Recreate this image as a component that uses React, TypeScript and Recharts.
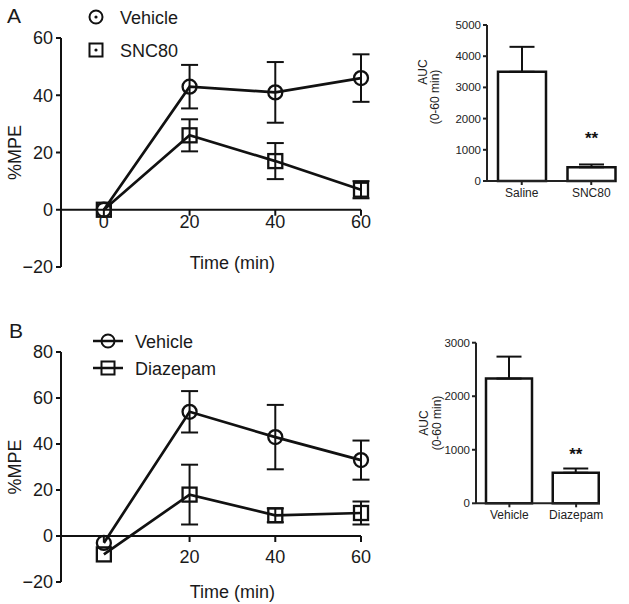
import React from 'react';
import {
  ComposedChart,
  Line,
  XAxis,
  YAxis,
  ErrorBar,
  ReferenceLine,
  BarChart,
  Bar,
  LabelList,
} from 'recharts';

const FONT = '"Liberation Sans", Arial, Helvetica, sans-serif';
const INK = '#111';
const TXT = '#1a1a1a';

// ---------- data ----------
const timePoints = [0, 20, 40, 60];
const xTicks = [0, 20, 40, 60];

const aSeriesNames = ['Vehicle', 'SNC80'];
const aVehicleMean = [0, 43, 41, 46];
const aVehicleSem = [0, 7.6, 10.6, 8.3];
const aSncMean = [0, 26, 17, 7];
const aSncSem = [0, 5.6, 6.3, 3];
const aYTicks = [-20, 0, 20, 40, 60];

const bSeriesNames = ['Vehicle', 'Diazepam'];
const bVehicleMean = [-3, 54, 43, 33];
const bVehicleSem = [0, 9, 14, 8.5];
const bDiazMean = [-8, 18, 9, 10];
const bDiazSem = [0, 13, 3, 5];
const bYTicks = [-20, 0, 20, 40, 60, 80];

const aAucGroups = ['Saline', 'SNC80'];
const aAucMean = [3500, 440];
const aAucSem = [800, 90];
const aAucSig = ['', '**'];
const aAucTicks = [0, 1000, 2000, 3000, 4000, 5000];

const bAucGroups = ['Vehicle', 'Diazepam'];
const bAucMean = [2330, 570];
const bAucSem = [410, 80];
const bAucSig = ['', '**'];
const bAucTicks = [0, 1000, 2000, 3000];

const aucLabelLines = ['AUC', '(0-60 min)'];
const xTitle = 'Time (min)';
const yTitle = '%MPE';

// ---------- tables ----------
const buildLine = (m1: number[], s1: number[], m2: number[], s2: number[]) =>
  timePoints.map((t, i) => ({ t, veh: m1[i], vehErr: s1[i], drug: m2[i], drugErr: s2[i] }));

const aLineData = buildLine(aVehicleMean, aVehicleSem, aSncMean, aSncSem);
const bLineData = buildLine(bVehicleMean, bVehicleSem, bDiazMean, bDiazSem);

const buildAuc = (g: string[], m: number[], s: number[], sig: string[]) =>
  g.map((name, i) => ({ g: name, v: m[i], e: [0, s[i]], sig: sig[i] }));

const aAucData = buildAuc(aAucGroups, aAucMean, aAucSem, aAucSig);
const bAucData = buildAuc(bAucGroups, bAucMean, bAucSem, bAucSig);

const fmtMinus = (v: number) => (v < 0 ? '\u2212' + Math.abs(v) : String(v));

const circleDot = (p: any) =>
  p.cx == null ? null : (
    <circle key={`c${p.index}`} cx={p.cx} cy={p.cy} r={7} fill="none" stroke={INK} strokeWidth={2.3} />
  );
const squareDot = (p: any) =>
  p.cx == null ? null : (
    <rect key={`s${p.index}`} x={p.cx - 7} y={p.cy - 7} width={14} height={14} fill="none" stroke={INK} strokeWidth={2.3} />
  );

type TCProps = {
  data: any[];
  top: number;
  height: number;
  marginTop: number;
  marginBottom: number;
  yDomain: [number, number];
  yTicks: number[];
  labelGap: number;
  hideZeroLabel: boolean;
  titleDy: number;
};

function TimeCourse({ data, top, height, marginTop, marginBottom, yDomain, yTicks, labelGap, hideZeroLabel, titleDy }: TCProps) {
  const width = 380;
  const xAxisH = 20;
  const xDomain: [number, number] = [-10, 60];
  const plotH = height - marginTop - marginBottom - xAxisH;
  const zeroY = marginTop + (yDomain[1] / (yDomain[1] - yDomain[0])) * plotH;

  const renderXTick = (props: any) => {
    const { x, payload } = props;
    const showLabel = !(hideZeroLabel && payload.value === 0);
    return (
      <g>
        <line x1={x} x2={x} y1={zeroY} y2={zeroY + 6} stroke={INK} strokeWidth={2} />
        {showLabel && (
          <text x={x} y={zeroY + labelGap} textAnchor="middle" dominantBaseline="central" fontSize={18} fill={TXT} fontFamily={FONT}>
            {payload.value}
          </text>
        )}
      </g>
    );
  };

  const xLabel = (props: any) => {
    const vb = props.viewBox;
    const frac = (30 - xDomain[0]) / (xDomain[1] - xDomain[0]);
    return (
      <text x={vb.x + frac * vb.width} y={vb.y + titleDy} textAnchor="middle" dominantBaseline="central" fontSize={18} fill={TXT} fontFamily={FONT}>
        {xTitle}
      </text>
    );
  };

  const yLabel = (props: any) => {
    const vb = props.viewBox;
    const cx = vb.x + 15;
    const cy = vb.y + vb.height / 2;
    return (
      <text transform={`translate(${cx},${cy}) rotate(-90)`} textAnchor="middle" dominantBaseline="central" fontSize={18} fill={TXT} fontFamily={FONT}>
        {yTitle}
      </text>
    );
  };

  return (
    <div style={{ position: 'absolute', left: 0, top }}>
      <ComposedChart width={width} height={height} data={data} margin={{ top: marginTop, right: 19, bottom: marginBottom, left: 0 }}>
        <XAxis
          dataKey="t"
          type="number"
          domain={xDomain}
          ticks={xTicks}
          interval={0}
          height={xAxisH}
          axisLine={false}
          tickLine={false}
          tick={renderXTick}
          label={xLabel}
        />
        <YAxis
          type="number"
          domain={yDomain}
          ticks={yTicks}
          interval={0}
          width={61}
          tickSize={5}
          tickMargin={3}
          tickFormatter={fmtMinus}
          axisLine={{ stroke: INK, strokeWidth: 2 }}
          tickLine={{ stroke: INK, strokeWidth: 2 }}
          tick={{ fontSize: 18, fill: TXT, fontFamily: FONT }}
          label={yLabel}
        />
        <ReferenceLine y={0} stroke={INK} strokeWidth={2} />
        <Line dataKey="veh" stroke={INK} strokeWidth={2.7} isAnimationActive={false} dot={circleDot} activeDot={false}>
          <ErrorBar dataKey="vehErr" direction="y" width={8.5} stroke={INK} strokeWidth={2} />
        </Line>
        <Line dataKey="drug" stroke={INK} strokeWidth={2.7} isAnimationActive={false} dot={squareDot} activeDot={false}>
          <ErrorBar dataKey="drugErr" direction="y" width={8.5} stroke={INK} strokeWidth={2} />
        </Line>
      </ComposedChart>
    </div>
  );
}

type AucProps = {
  data: any[];
  left: number;
  top: number;
  width: number;
  height: number;
  margin: { top: number; right: number; bottom: number; left: number };
  yAxisW: number;
  yMax: number;
  ticks: number[];
  barSize: number;
  padRight: number;
  sigOffset: number;
  lab: { x1: number; x2: number; dy1: number; dy2: number };
};

function AucChart({ data, left, top, width, height, margin, yAxisW, yMax, ticks, barSize, padRight, sigOffset, lab }: AucProps) {
  const yLabel = (props: any) => {
    const vb = props.viewBox;
    const cy = vb.y + vb.height / 2;
    return (
      <g>
        <text transform={`translate(${vb.x + lab.x1},${cy + lab.dy1}) rotate(-90)`} textAnchor="middle" dominantBaseline="central" fontSize={12} fill="#222" fontFamily={FONT}>
          {aucLabelLines[0]}
        </text>
        <text transform={`translate(${vb.x + lab.x2},${cy + lab.dy2}) rotate(-90)`} textAnchor="middle" dominantBaseline="central" fontSize={12} fill="#222" fontFamily={FONT}>
          {aucLabelLines[1]}
        </text>
      </g>
    );
  };
  return (
    <div style={{ position: 'absolute', left, top }}>
      <BarChart width={width} height={height} data={data} margin={margin} barSize={barSize}>
        <XAxis
          dataKey="g"
          type="category"
          interval={0}
          height={20}
          padding={{ left: 0, right: padRight }}
          tickSize={4}
          tickMargin={3}
          axisLine={{ stroke: '#222', strokeWidth: 2 }}
          tickLine={{ stroke: '#222', strokeWidth: 2 }}
          tick={{ fontSize: 12, fill: '#222', fontFamily: FONT }}
        />
        <YAxis
          type="number"
          domain={[0, yMax]}
          ticks={ticks}
          interval={0}
          width={yAxisW}
          tickSize={4}
          tickMargin={2}
          axisLine={{ stroke: '#222', strokeWidth: 2 }}
          tickLine={{ stroke: '#222', strokeWidth: 2 }}
          tick={{ fontSize: 11.5, fill: '#222', fontFamily: FONT }}
          label={yLabel}
        />
        <Bar dataKey="v" fill="#fff" stroke={INK} strokeWidth={2.5} isAnimationActive={false}>
          <ErrorBar dataKey="e" direction="y" width={12.5} stroke={INK} strokeWidth={2} />
          <LabelList dataKey="sig" position="top" offset={sigOffset} fill={INK} fontSize={17} fontWeight="bold" fontFamily={FONT} />
        </Bar>
      </BarChart>
    </div>
  );
}

function Overlay() {
  const t = { fontFamily: FONT, fontSize: 18, fill: TXT } as const;
  return (
    <svg width={629} height={604} style={{ position: 'absolute', left: 0, top: 0, pointerEvents: 'none' }}>
      <text x={7} y={23} fontFamily={FONT} fontSize={21} fill={TXT}>A</text>
      <text x={9} y={338} fontFamily={FONT} fontSize={21} fill={TXT}>B</text>
      {/* legend A */}
      <circle cx={96} cy={17} r={6.5} fill="none" stroke={INK} strokeWidth={2} />
      <circle cx={96} cy={17} r={1.6} fill={INK} />
      <text x={120} y={18} dominantBaseline="central" {...t}>{aSeriesNames[0]}</text>
      <rect x={89.5} y={43.5} width={13} height={13} fill="none" stroke={INK} strokeWidth={2} />
      <circle cx={96} cy={50} r={1.6} fill={INK} />
      <text x={120} y={51} dominantBaseline="central" {...t}>{aSeriesNames[1]}</text>
      {/* legend B */}
      <line x1={93} x2={123} y1={341} y2={341} stroke={INK} strokeWidth={2.5} />
      <circle cx={108} cy={341} r={6.5} fill="none" stroke={INK} strokeWidth={2} />
      <text x={135} y={342} dominantBaseline="central" {...t}>{bSeriesNames[0]}</text>
      <line x1={93} x2={123} y1={368} y2={368} stroke={INK} strokeWidth={2.5} />
      <rect x={101.5} y={361.5} width={13} height={13} fill="none" stroke={INK} strokeWidth={2} />
      <text x={135} y={369} dominantBaseline="central" {...t}>{bSeriesNames[1]}</text>
    </svg>
  );
}

export default function App() {
  return (
    <div style={{ position: 'absolute', left: 0, top: 0, width: 629, height: 604, background: '#fff', fontFamily: FONT, overflow: 'hidden' }}>
      <TimeCourse
        data={aLineData}
        top={0}
        height={290}
        marginTop={38}
        marginBottom={3}
        yDomain={[-20, 60]}
        yTicks={aYTicks}
        labelGap={12}
        hideZeroLabel={false}
        titleDy={-4}
      />
      <TimeCourse
        data={bLineData}
        top={300}
        height={304}
        marginTop={52}
        marginBottom={2}
        yDomain={[-20, 80]}
        yTicks={bYTicks}
        labelGap={21}
        hideZeroLabel={true}
        titleDy={10}
      />
      <AucChart
        data={aAucData}
        left={400}
        top={0}
        width={229}
        height={210}
        margin={{ top: 25, right: 14, bottom: 9, left: 0 }}
        yAxisW={87}
        yMax={5000}
        ticks={aAucTicks}
        barSize={48}
        padRight={-11}
        sigOffset={23}
        lab={{ x1: 23, x2: 35, dy1: -31, dy2: -6 }}
      />
      <AucChart
        data={bAucData}
        left={400}
        top={300}
        width={229}
        height={240}
        margin={{ top: 42.7, right: 29, bottom: 16.7, left: 0 }}
        yAxisW={76}
        yMax={3000}
        ticks={bAucTicks}
        barSize={46}
        padRight={-9.5}
        sigOffset={13}
        lab={{ x1: 24, x2: 37, dy1: 0, dy2: 0 }}
      />
      <Overlay />
    </div>
  );
}
